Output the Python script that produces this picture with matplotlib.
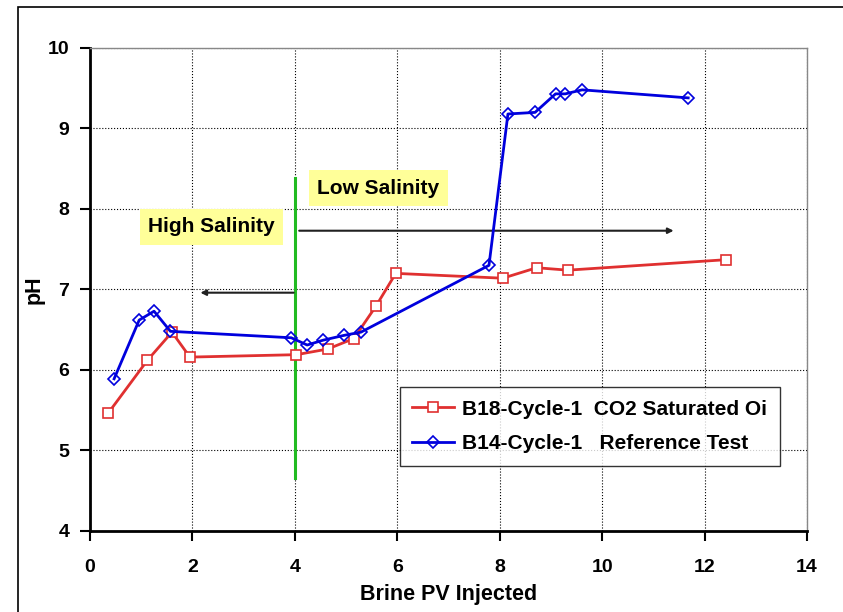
import matplotlib.pyplot as plt
from matplotlib.patches import Rectangle

plt.rcParams['font.family'] = ['Liberation Sans', 'DejaVu Sans']
plt.rcParams['font.weight'] = 'bold'

# B18 cycle 1, CO2 saturated oil
pv_b18 = [0.35, 1.12, 1.60, 1.95, 4.03, 4.64, 5.15, 5.58, 5.97, 8.06, 8.72, 9.33, 12.42]
ph_b18 = [5.46, 6.12, 6.47, 6.16, 6.19, 6.26, 6.39, 6.79, 7.20, 7.14, 7.27, 7.24, 7.37]

# B14 cycle 1, reference test
pv_b14 = [0.47, 0.96, 1.25, 1.57, 3.93, 4.24, 4.55, 4.96, 5.29, 7.79, 8.16, 8.69, 9.09, 9.28, 9.61, 11.68]
ph_b14 = [5.89, 6.62, 6.73, 6.48, 6.40, 6.31, 6.37, 6.43, 6.47, 7.30, 9.18, 9.20, 9.43, 9.43, 9.48, 9.38]

label_b18 = 'B18-Cycle-1  CO2 Saturated Oi'
label_b14 = 'B14-Cycle-1   Reference Test'

fig = plt.figure(figsize=(8.43, 6.12), dpi=100)
ax = fig.add_axes([0.1068, 0.1324, 0.8505, 0.7892])

# outer chart frame
fig.patches.append(Rectangle((18 / 843, -0.05), 1.0, 1.05 - 7 / 612, transform=fig.transFigure,
                             fill=False, edgecolor='black', linewidth=1.2))

ax.plot(pv_b18, ph_b18, color='#e03030', linewidth=2, marker='s', markersize=7,
        markerfacecolor='white', markeredgecolor='#e03030', markeredgewidth=1.2, label=label_b18, zorder=4)
ax.plot(pv_b14, ph_b14, color='#0000dd', linewidth=2, marker='D', markersize=6.5,
        markerfacecolor='none', markeredgecolor='#0000dd', markeredgewidth=1.2, label=label_b14, zorder=5)

# salinity switch
ax.plot([4, 4], [4.66, 8.38], color='#22bb22', linewidth=2.2, zorder=3)
ax.annotate('', xy=(2.1, 6.96), xytext=(4.03, 6.96),
            arrowprops=dict(arrowstyle='-|>', color='#202020', lw=1.5, mutation_scale=8))
ax.annotate('', xy=(11.45, 7.73), xytext=(4.03, 7.73),
            arrowprops=dict(arrowstyle='-|>', color='#202020', lw=1.5, mutation_scale=8))

ax.text(2.37, 7.78, 'High Salinity', fontsize=15, fontweight='bold', ha='center', va='center',
        bbox=dict(boxstyle='square,pad=0.4', facecolor='#ffff99', edgecolor='none'), zorder=6)
ax.text(5.63, 8.26, 'Low Salinity', fontsize=15, fontweight='bold', ha='center', va='center',
        bbox=dict(boxstyle='square,pad=0.4', facecolor='#ffff99', edgecolor='none'), zorder=6)

ax.set_xlim(0, 14)
ax.set_ylim(4, 10)
ax.set_xticks(range(0, 15, 2))
ax.set_yticks(range(4, 11))
ax.grid(True, linestyle=':', color='black', linewidth=0.8)
ax.set_axisbelow(True)

for s in ['left', 'bottom']:
    ax.spines[s].set_linewidth(2)
    ax.spines[s].set_color('black')
for s in ['top', 'right']:
    ax.spines[s].set_linewidth(1)
    ax.spines[s].set_color('#888888')

ax.tick_params(axis='both', direction='out', length=7, width=1.5, labelsize=14)
ax.tick_params(axis='x', pad=13)
ax.tick_params(axis='y', pad=8)
for lbl in ax.get_xticklabels() + ax.get_yticklabels():
    lbl.set_fontweight('bold')

ax.set_xlabel('Brine PV Injected', fontsize=15.5, fontweight='bold', labelpad=6)
ax.set_ylabel('pH', fontsize=15.5, fontweight='bold', labelpad=2)

leg = ax.legend(loc='upper left', bbox_to_anchor=(0.432, 0.298), frameon=True,
                fancybox=False, edgecolor='black', handlelength=2.0, handletextpad=0.4,
                borderpad=0.6, labelspacing=0.75, borderaxespad=0,
                prop={'weight': 'bold', 'size': 15})
leg.get_frame().set_linewidth(1)

fig.savefig('out.png', dpi=100)
